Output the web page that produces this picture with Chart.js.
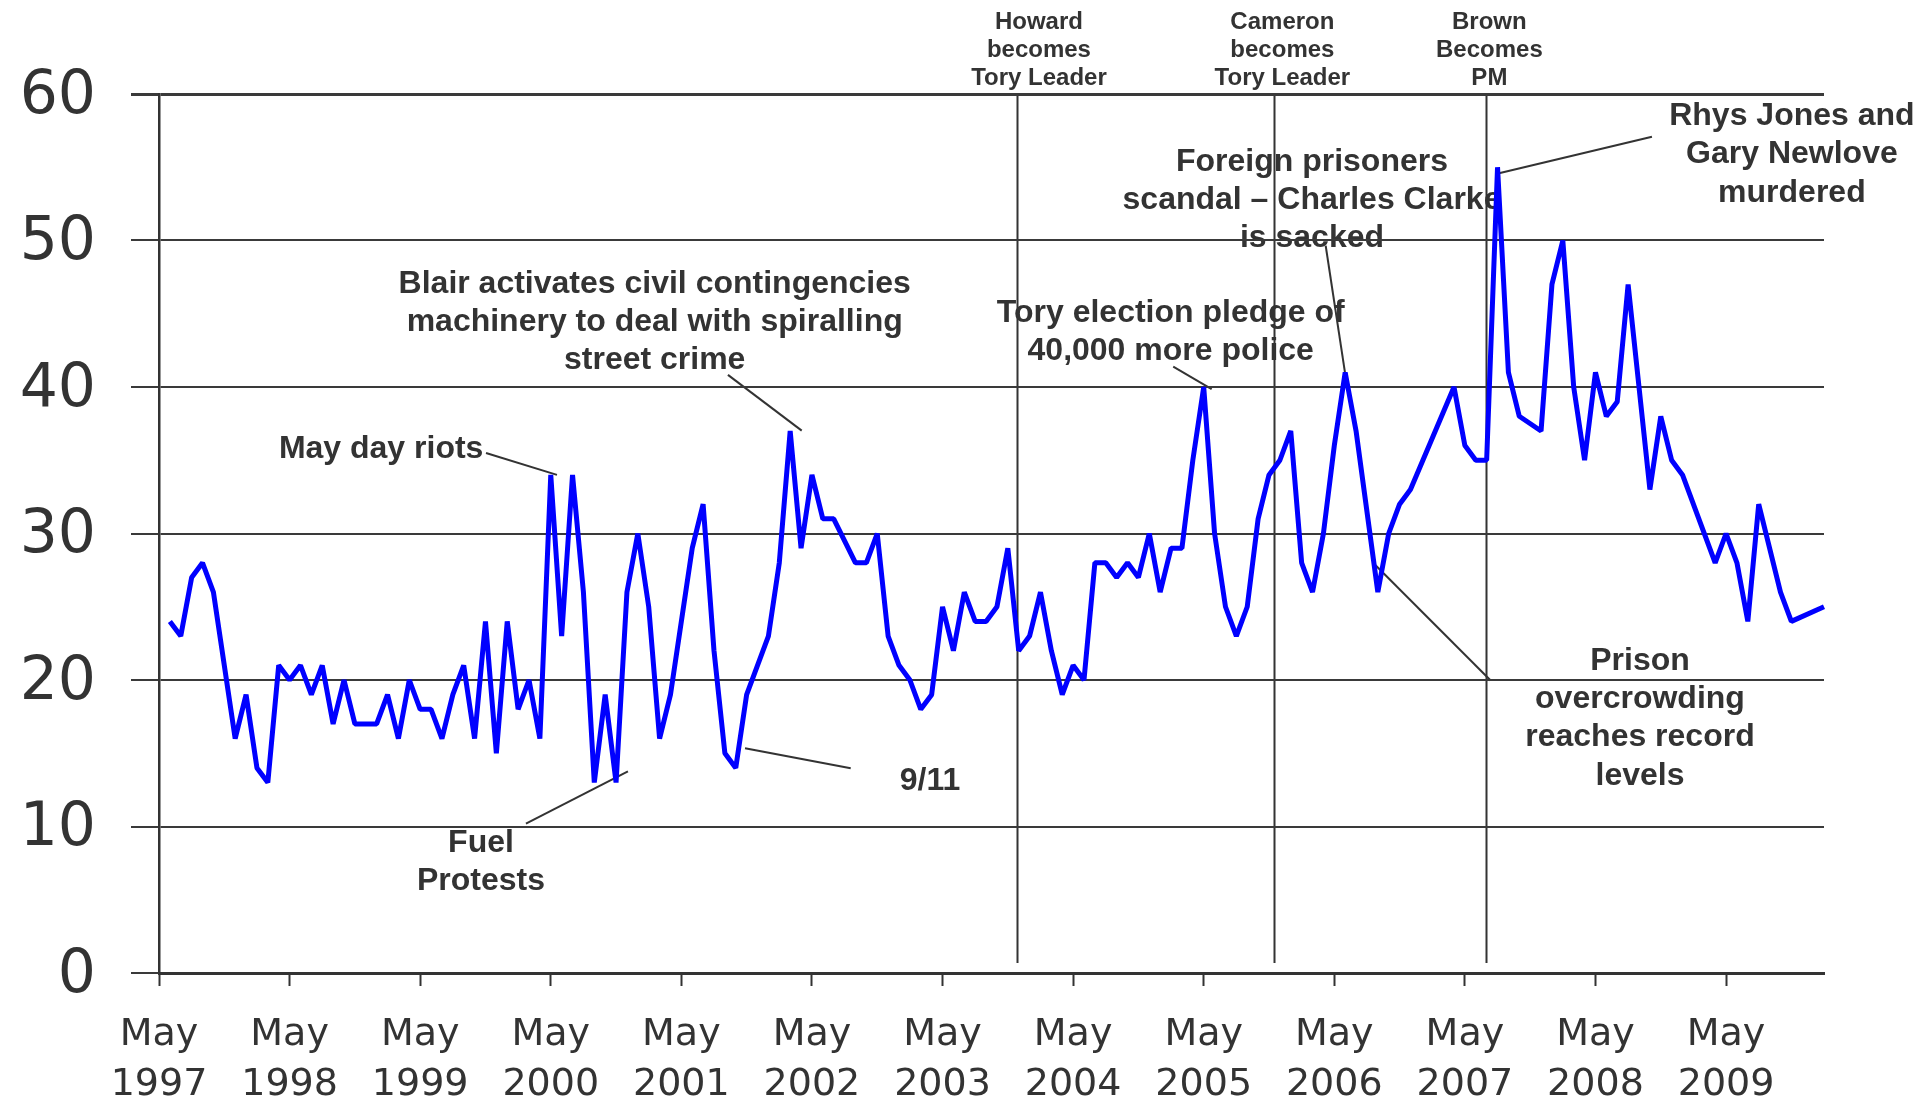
<!DOCTYPE html>
<html>
<head>
<meta charset="utf-8">
<title>Crime as an issue, 1997-2010</title>
<script src="https://cdn.jsdelivr.net/npm/chart.js@4.4.1/dist/chart.umd.min.js"></script>
<style>
  html, body { margin: 0; padding: 0; background: #fff; }
  #wrap { width: 1919px; height: 1100px; }
</style>
</head>
<body>
<div id="wrap"><canvas id="issueChart" width="1919" height="1100"></canvas></div>
<script>
// Monthly readings, one row per year running May..Apr (null = no reading)
const startYear = 1997;
const monthNames = ['May', 'Jun', 'Jul', 'Aug', 'Sep', 'Oct', 'Nov', 'Dec', 'Jan', 'Feb', 'Mar', 'Apr'];

const y1997 = [null, 24, 23, 27, 28, 26, null, 16, 19, 14, 13, 21];
const y1998 = [20, 21, 19, 21, 17, 20, 17, null, 17, 19, 16, 20];
const y1999 = [18, 18, 16, 19, 21, 16, 24, 15, 24, 18, 20, 16];
const y2000 = [34, 23, 34, 26, 13, 19, 13, 26, 30, 25, 16, 19];
const y2001 = [null, 29, 32, 22, 15, 14, 19, null, 23, 28, 37, 29];
const y2002 = [34, 31, 31, null, 28, 28, 30, 23, 21, 20, 18, 19];
const y2003 = [25, 22, 26, 24, 24, 25, 29, 22, 23, 26, 22, 19];
const y2004 = [21, 20, 28, 28, 27, 28, 27, 30, 26, 29, 29, 35];
const y2005 = [40, 30, 25, 23, 25, 31, 34, 35, 37, 28, 26, 30];
const y2006 = [36, 41, 37, null, 26, 30, 32, 33, null, null, null, 40];
const y2007 = [36, 35, 35, 55, 41, 38, null, 37, 47, 50, 40, 35];
const y2008 = [41, 38, 39, 47, null, 33, 38, 35, 34, null, null, 28];
const y2009 = [30, 28, 24, 32, null, 26, 24, null, null, 25];

const values = [].concat(y1997, y1998, y1999, y2000, y2001, y2002, y2003,
                         y2004, y2005, y2006, y2007, y2008, y2009);

const yTicks = [0, 10, 20, 30, 40, 50, 60];

// Month labels for the category axis
const months = values.map((v, k) => {
    const m = k % 12;
    const yr = startYear + Math.floor(k / 12) + (m >= 8 ? 1 : 0);
    return monthNames[m] + ' ' + yr;
});

// Political events: vertical line at month index "at", label centred at "labelAt"
const events = [
    { lines: ['Howard', 'becomes', 'Tory Leader'], at: 78.85, labelAt: 80.86 },
    { lines: ['Cameron', 'becomes', 'Tory Leader'], at: 102.5, labelAt: 103.23 },
    { lines: ['Brown', 'Becomes', 'PM'], at: 121.9, labelAt: 122.25 }
];

// Call-outs, positioned in chart units (month index, value)
const notes = [
    { lines: ['May day riots'], x: 29.81, y: 35.78, align: 'right', leader: [30.05, 35.5, 36.57, 34.0] },
    { lines: ['Blair activates civil contingencies', 'machinery to deal with spiralling', 'street crime'],
      x: 45.55, y: 47.04, leader: [52.28, 40.83, 59.06, 37.02] },
    { lines: ['Fuel', 'Protests'], x: 29.59, y: 8.88, leader: [33.72, 10.19, 43.09, 13.76] },
    { lines: ['9/11'], x: 70.85, y: 13.11, leader: [53.85, 15.34, 63.56, 13.98] },
    { lines: ['Tory election pledge of', '40,000 more police'], x: 92.97, y: 45.06, leader: [93.2, 41.39, 96.73, 39.85] },
    { lines: ['Foreign prisoners', 'scandal \u2013 Charles Clarke', 'is sacked'],
      x: 105.95, y: 55.37, leader: [107.21, 49.64, 109.04, 40.71] },
    { lines: ['Rhys Jones and', 'Gary Newlove', 'murdered'], x: 150.05, y: 58.49, leader: [137.19, 57.08, 122.94, 54.56] },
    { lines: ['Prison', 'overcrowding', 'reaches record', 'levels'], x: 136.09, y: 21.3, leader: [111.79, 27.83, 122.37, 19.97] }
];

const ink = '#333333';
const isMay = i => months[i] && months[i].startsWith('May');

// Draw call-outs and event markers underneath the scales
const notesPlugin = {
    id: 'notes',
    beforeDraw(chart) {
        const { ctx, scales: { x, y } } = chart;
        ctx.save();
        ctx.fillStyle = ink;
        ctx.strokeStyle = ink;
        ctx.textBaseline = 'middle';

        ctx.font = 'bold 32px "Liberation Sans", Arial, sans-serif';
        notes.forEach(n => {
            ctx.textAlign = n.align || 'center';
            const px = x.getPixelForValue(n.x);
            const py = y.getPixelForValue(n.y);
            n.lines.forEach((t, k) => ctx.fillText(t, px, py + k * 38.3));
        });

        ctx.font = 'bold 24px "Liberation Sans", Arial, sans-serif';
        ctx.textAlign = 'center';
        events.forEach(e => {
            const px = x.getPixelForValue(e.labelAt);
            e.lines.forEach((t, k) => ctx.fillText(t, px, 22 + k * 28));
        });

        ctx.lineWidth = 2;
        events.forEach(e => {
            const px = Math.round(x.getPixelForValue(e.at)) + 0.5;
            ctx.beginPath();
            ctx.moveTo(px, y.getPixelForValue(60));
            ctx.lineTo(px, y.getPixelForValue(0) - 10);
            ctx.stroke();
        });

        notes.forEach(n => {
            const [x1, y1, x2, y2] = n.leader;
            ctx.beginPath();
            ctx.moveTo(x.getPixelForValue(x1), y.getPixelForValue(y1));
            ctx.lineTo(x.getPixelForValue(x2), y.getPixelForValue(y2));
            ctx.stroke();
        });
        ctx.restore();
    }
};

const ctx = document.getElementById('issueChart').getContext('2d');
const issueChart = new Chart(ctx, {
    type: 'line',
    data: {
        labels: months,
        datasets: [{
            label: 'Crime / law and order',
            data: values,
            borderColor: '#0000ff',
            borderWidth: 5,
            borderJoinStyle: 'bevel',
            pointRadius: 0,
            tension: 0,
            spanGaps: true,
            fill: false
        }]
    },
    options: {
        responsive: false,
        animation: false,
        devicePixelRatio: 1,
        layout: { padding: { top: 94, right: 95, left: 0, bottom: 0 } },
        plugins: {
            legend: { display: false },
            tooltip: { enabled: false }
        },
        scales: {
            x: {
                type: 'category',
                offset: false,
                afterFit: s => { s.height = 127; },
                border: { display: true, color: ink, width: 3 },
                grid: {
                    drawOnChartArea: false,
                    drawTicks: true,
                    tickLength: 13,
                    tickColor: c => isMay(c.index) ? ink : 'rgba(0,0,0,0)',
                    tickWidth: c => isMay(c.index) ? 2 : 0,
                    color: 'rgba(0,0,0,0)'
                },
                ticks: {
                    autoSkip: false,
                    maxRotation: 0,
                    minRotation: 0,
                    padding: 24,
                    color: ink,
                    font: { family: '"DejaVu Sans", sans-serif', size: 38, lineHeight: 1.32 },
                    callback: function (value, index) {
                        const lab = this.getLabelForValue(value);
                        return lab.startsWith('May') ? ['May', lab.slice(4)] : '';
                    }
                }
            },
            y: {
                min: 0,
                max: 60,
                afterFit: s => { s.width = 159; },
                afterBuildTicks: s => { s.ticks = yTicks.map(v => ({ value: v })); },
                border: { display: true, color: ink, width: 2.5 },
                grid: {
                    color: '#3a3a3a',
                    lineWidth: c => c.tick && c.tick.value === 60 ? 3 : 2,
                    tickLength: 28
                },
                ticks: {
                    padding: 35,
                    labelOffset: 3,
                    color: ink,
                    font: { family: '"DejaVu Sans", sans-serif', size: 60 }
                }
            }
        }
    },
    plugins: [notesPlugin]
});
</script>
</body>
</html>
